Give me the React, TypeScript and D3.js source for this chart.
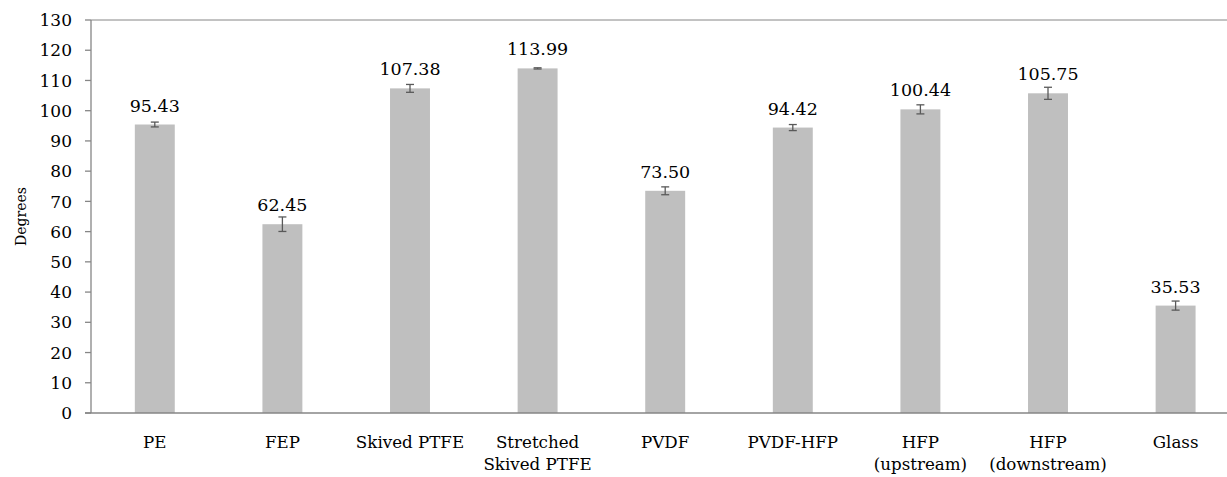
import React from "react";
import * as d3 from "d3";

const categories: string[][] = [
  ["PE"],
  ["FEP"],
  ["Skived PTFE"],
  ["Stretched", "Skived PTFE"],
  ["PVDF"],
  ["PVDF-HFP"],
  ["HFP", "(upstream)"],
  ["HFP", "(downstream)"],
  ["Glass"],
];
const values = [95.43, 62.45, 107.38, 113.99, 73.5, 94.42, 100.44, 105.75, 35.53];
const errors = [0.8, 2.4, 1.3, 0.2, 1.3, 1.0, 1.5, 2.0, 1.5];
const yTicks = [0, 10, 20, 30, 40, 50, 60, 70, 80, 90, 100, 110, 120, 130];

const W = 1227;
const H = 477;
const left = 91;
const top = 20;
const bottom = 413;
const band = 127.6;
const font = '"DejaVu Serif", "Noto Serif", serif';

export default function App() {
  const x = d3
    .scaleBand<number>()
    .domain(values.map((_, i) => i))
    .range([left, left + band * values.length])
    .paddingInner(0.687)
    .paddingOuter(0.3435);
  const y = d3.scaleLinear().domain([0, 130]).range([bottom, top]);
  const bw = x.bandwidth();
  const axisColor = "#868686";
  const errColor = "#595959";
  const ts = { fontFamily: font };

  return (
    <svg
      width={W}
      height={H}
      style={{ position: "absolute", left: 0, top: 0, background: "#fff" }}
    >
      <line x1={left} x2={W} y1={y(130)} y2={y(130)} stroke={axisColor} strokeWidth={1} />
      {values.map((v, i) => (
        <rect key={"b" + i} x={x(i)} y={y(v)} width={bw} height={y(0) - y(v)} fill="#bfbfbf" />
      ))}
      {values.map((v, i) => {
        const cx = (x(i) as number) + bw / 2;
        const e = errors[i];
        return (
          <g key={"e" + i} stroke={errColor} strokeWidth={1.3}>
            <line x1={cx} x2={cx} y1={y(v + e)} y2={y(v - e)} />
            <line x1={cx - 4} x2={cx + 4} y1={y(v + e)} y2={y(v + e)} />
            <line x1={cx - 4} x2={cx + 4} y1={y(v - e)} y2={y(v - e)} />
          </g>
        );
      })}
      {values.map((v, i) => (
        <text
          key={"l" + i}
          x={(x(i) as number) + bw / 2}
          y={y(v) - 13}
          textAnchor="middle"
          fontSize={17.5}
          fill="#000"
          style={ts}
        >
          {v.toFixed(2)}
        </text>
      ))}
      <line x1={left} x2={left} y1={top} y2={bottom} stroke={axisColor} strokeWidth={1.3} />
      {yTicks.map((t) => (
        <g key={"t" + t}>
          <line x1={left - 6} x2={left} y1={y(t)} y2={y(t)} stroke={axisColor} strokeWidth={1.3} />
          <text x={72} y={y(t)} dy="0.36em" textAnchor="end" fontSize={17} fill="#000" style={ts}>
            {t}
          </text>
        </g>
      ))}
      <line x1={left - 6} x2={W} y1={bottom} y2={bottom} stroke={axisColor} strokeWidth={1.3} />
      {categories.map((lines, i) => (
        <text
          key={"c" + i}
          x={(x(i) as number) + bw / 2}
          y={448}
          textAnchor="middle"
          fontSize={16.7}
          fill="#000"
          style={ts}
        >
          {lines.map((ln, j) => (
            <tspan key={j} x={(x(i) as number) + bw / 2} dy={j === 0 ? 0 : 22}>
              {ln}
            </tspan>
          ))}
        </text>
      ))}
      <text
        transform={`translate(26, ${(top + bottom) / 2}) rotate(-90)`}
        textAnchor="middle"
        fontSize={14}
        fill="#000"
        style={ts}
      >
        Degrees
      </text>
    </svg>
  );
}
